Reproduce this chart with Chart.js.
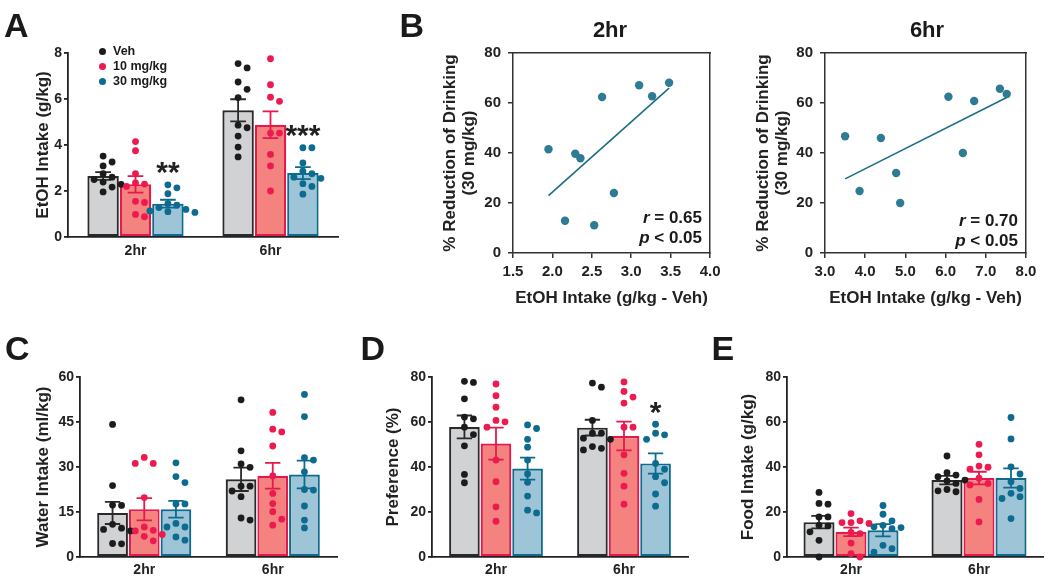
<!DOCTYPE html>
<html>
<head>
<meta charset="utf-8">
<title>EtOH intake figure</title>
<script src="https://cdn.jsdelivr.net/npm/chart.js@4.4.1/dist/chart.umd.min.js"></script>
<style>
  html,body{margin:0;padding:0;background:#fff;}
  body{width:1050px;height:582px;position:relative;overflow:hidden;font-family:"Liberation Sans",Arial,Helvetica,sans-serif;color:#1a1a1a;}
  .box{position:absolute;}
  .txt{position:absolute;font-weight:bold;white-space:nowrap;z-index:2;}
  .letter{font-size:34px;line-height:34px;}
  .ttl{font-size:22px;line-height:22px;width:120px;text-align:center;}
  .stat{font-size:17px;line-height:20px;text-align:right;}
  .leg{font-size:12.5px;line-height:15px;}
  .dot{position:absolute;width:7px;height:7px;border-radius:50%;z-index:2;}
</style>
</head>
<body>
<div class="box" style="left:0;top:0;width:345px;height:275px"><canvas id="cA"></canvas></div>
<div class="box" style="left:380px;top:0;width:345px;height:320px"><canvas id="cB1"></canvas></div>
<div class="box" style="left:720px;top:0;width:330px;height:320px"><canvas id="cB2"></canvas></div>
<div class="box" style="left:0;top:300px;width:345px;height:282px"><canvas id="cC"></canvas></div>
<div class="box" style="left:350px;top:300px;width:345px;height:282px"><canvas id="cD"></canvas></div>
<div class="box" style="left:700px;top:300px;width:350px;height:282px"><canvas id="cE"></canvas></div>

<div class="txt letter" style="left:4px;top:7.5px">A</div>
<div class="txt letter" style="left:399.5px;top:7.5px">B</div>
<div class="txt letter" style="left:5px;top:330.5px">C</div>
<div class="txt letter" style="left:360.5px;top:330.5px">D</div>
<div class="txt letter" style="left:711.5px;top:330.5px">E</div>

<div class="txt ttl" style="left:550px;top:19px">2hr</div>
<div class="txt ttl" style="left:867px;top:19px">6hr</div>

<div class="txt stat" style="right:348px;top:208px"><i>r</i> = 0.65<br><i>p</i> &lt; 0.05</div>
<div class="txt stat" style="right:32px;top:211px"><i>r</i> = 0.70<br><i>p</i> &lt; 0.05</div>

<div id="legend"></div>

<script>
// ---------------- DATA ----------------
const groups = ['2hr', '6hr'];
const treatments = ['Veh', '10 mg/kg', '30 mg/kg'];

// A: EtOH intake (g/kg) — individual animals [2hr, 6hr]
const etohVehPts = [[3.52,3.26,3.09,2.75,2.60,2.50,2.39,2.29,2.17,1.96],[7.54,7.35,6.74,6.42,6.06,4.86,4.75,4.39,3.91,3.48]];
const etoh10Pts  = [[4.15,3.75,2.75,2.35,2.30,2.20,1.55,1.50,0.98,0.88],[7.75,6.62,6.08,5.90,4.52,4.52,3.59,3.09,2.00]];
const etoh30Pts  = [[2.27,2.14,1.88,1.45,1.38,1.28,1.20,1.13,1.10,1.07],[3.88,3.88,3.22,2.86,2.75,2.60,2.55,2.32,2.20,1.86]];
const etohMeanVeh = [2.65, 5.51], etohSemVeh = [0.17, 0.48];
const etohMean10  = [2.29, 4.88], etohSem10  = [0.36, 0.58];
const etohMean30  = [1.45, 2.78], etohSem30  = [0.17, 0.26];
const etohSig30   = ['**', '***'];

// B: % reduction of drinking (30 mg/kg) vs EtOH intake (Veh)
const b2hrX = [1.95,2.16,2.29,2.355,2.53,2.63,2.78,3.10,3.265,3.48];
const b2hrY = [41.5,12.9,39.7,37.9,11.1,62.4,24.0,67.1,62.7,68.1];
const b6hrX = [3.50,3.86,4.39,4.77,4.87,6.07,6.43,6.71,7.35,7.52];
const b6hrY = [46.7,24.8,46.0,32.0,20.0,62.5,40.0,60.8,65.7,63.6];

// C: Water intake (ml/kg)
const waterVehPts = [[44.2,23.8,17.3,17.2,10.9,9.6,9.2,8.7,4.5,4.4],[52.4,35.4,31.0,29.9,23.6,23.6,22.0,20.1,13.0,12.3]];
const water10Pts  = [[33.2,31.2,31.2,19.8,10.0,8.9,8.7,7.5,6.9,5.4],[48.2,42.6,41.7,37.0,27.0,21.2,17.8,15.1,12.6,10.6]];
const water30Pts  = [[31.4,26.8,24.8,17.7,17.7,11.2,10.0,10.0,6.7,5.6],[54.2,46.8,33.1,32.3,28.4,22.5,22.3,17.0,12.3,9.7]];
const waterMeanVeh = [14.7, 25.9], waterSemVeh = [3.7, 3.9];
const waterMean10  = [15.9, 27.1], waterSem10  = [3.7, 4.3];
const waterMean30  = [15.9, 27.5], waterSem30  = [2.8, 4.6];

// D: Preference (%)
const prefVehPts = [[78.1,77.6,70.3,62.2,61.4,57.7,54.4,49.4,36.7,33.0],[77.3,75.5,60.7,55.0,55.0,52.8,52.3,49.1,48.3,47.6]];
const pref10Pts  = [[76.9,71.7,66.6,60.7,60.1,57.7,43.1,33.5,22.3,15.9],[77.8,73.6,71.1,68.4,57.7,57.7,45.4,37.2,31.5,23.5]];
const pref30Pts  = [[58.7,57.1,52.3,48.8,43.1,36.9,33.2,27.1,20.8,19.6],[59.0,55.0,54.3,52.3,41.6,39.0,35.7,33.0,28.0,22.6]];
const prefMeanVeh = [57.8, 57.5], prefSemVeh = [5.1, 3.5];
const prefMean10  = [50.4, 53.8], prefSem10  = [7.1, 6.4];
const prefMean30  = [39.3, 41.6], prefSem30  = [4.9, 4.5];
const prefSig30   = ['', '*'];

// E: Food intake (g/kg)
const foodVehPts = [[28.7,23.8,23.5,17.8,17.8,14.1,13.8,11.2,7.4,0.0],[44.9,37.5,36.4,35.7,34.2,33.8,32.7,30.0,29.4,29.0]];
const food10Pts  = [[19.3,16.1,15.3,15.3,14.9,10.9,10.4,6.2,1.5,0.0],[50.1,45.4,40.4,39.9,39.0,35.0,32.7,32.0,25.6,15.6]];
const food30Pts  = [[22.9,19.0,16.1,14.1,13.4,13.1,12.6,5.2,3.7,2.2],[62.0,52.5,40.1,36.9,33.5,30.5,28.3,26.8,26.0,17.1]];
const foodMeanVeh = [15.5, 34.2], foodSemVeh = [2.8, 1.9];
const foodMean10  = [11.2, 35.1], foodSem10  = [1.9, 2.8];
const foodMean30  = [11.9, 35.1], foodSem30  = [2.7, 4.3];

// ---------------- STYLE ----------------
const FONT = '"Liberation Sans", Arial, Helvetica, sans-serif';
const INK = '#222222';
const fills   = ['#d1d2d4', '#f4837f', '#9ec4d7'];
const borders = ['#2a2a2a', '#e5194b', '#0c6b8f'];
const dotCols = ['#1c1c1c', '#ec1a4f', '#0c6b8f'];
const SCAT = '#2f7b93';
const FITC = '#1c6e85';
const DOT_R = 3.4, DOT_STEP = 9;

// legend (HTML)
(function(){
  const L = document.getElementById('legend');
  const rows = [51, 66, 81];
  treatments.forEach((t,i)=>{
    const d = document.createElement('div'); d.className='dot';
    d.style.left='98.5px'; d.style.top=(rows[i]-3.5)+'px'; d.style.background=dotCols[i];
    L.appendChild(d);
    const s = document.createElement('div'); s.className='txt leg';
    s.style.left='113px'; s.style.top=(rows[i]-7.5)+'px'; s.textContent=t;
    L.appendChild(s);
  });
})();

// beeswarm: horizontal pixel offsets so dots do not overlap
function swarm(vals, pxPerY, step, r) {
  const order = vals.map((v,i)=>i).sort((a,b)=>vals[b]-vals[a]);
  const placed = [], off = new Array(vals.length).fill(0);
  for (const i of order) {
    const y = vals[i]*pxPerY;
    for (let k=0; k<30; k++) {
      const cand = k===0 ? 0 : (k%2 ? 1 : -1)*Math.ceil(k/2)*step;
      if (placed.every(p => Math.hypot(p.x-cand, p.y-y) >= 2*r+0.8)) { off[i]=cand; placed.push({x:cand,y}); break; }
    }
  }
  return off;
}

const errPlugin = {
  id:'errbars',
  afterDatasetDraw(chart, args) {
    const ds = chart.data.datasets[args.index];
    if (!ds.sem) return;
    const y = chart.scales.y, ctx = chart.ctx;
    ctx.save();
    ctx.strokeStyle = ds.borderColor; ctx.lineWidth = 1.8;
    args.meta.data.forEach((bar, i) => {
      const m = ds.data[i], s = ds.sem[i];
      const yt = y.getPixelForValue(m+s), yb = y.getPixelForValue(m-s);
      const x = bar.x, hw = bar.width*0.25;
      ctx.beginPath();
      ctx.moveTo(x, yt); ctx.lineTo(x, yb);
      ctx.moveTo(x-hw, yt); ctx.lineTo(x+hw, yt);
      ctx.moveTo(x-hw, yb); ctx.lineTo(x+hw, yb);
      ctx.stroke();
    });
    ctx.restore();
  }
};

// individual animals drawn over each bar, positioned by the y scale
const dotPlugin = {
  id:'dots',
  afterDatasetsDraw(chart) {
    const ctx = chart.ctx, y = chart.scales.y;
    const pxPerY = y.getPixelForValue(0) - y.getPixelForValue(1);
    chart.data.datasets.forEach((ds, di) => {
      if (!ds.pts) return;
      const meta = chart.getDatasetMeta(di);
      ds.pts.forEach((vals, g) => {
        const bar = meta.data[g];
        const offs = swarm(vals, pxPerY, DOT_STEP, DOT_R);
        ctx.save();
        ctx.fillStyle = ds.dotColor;
        vals.forEach((v, i) => {
          ctx.beginPath();
          ctx.arc(bar.x + offs[i], y.getPixelForValue(v), DOT_R, 0, Math.PI*2);
          ctx.fill();
        });
        ctx.restore();
      });
    });
  }
};

const sigPlugin = {
  id:'sig',
  afterDatasetsDraw(chart) {
    const ctx = chart.ctx, y = chart.scales.y;
    chart.data.datasets.forEach((ds, di) => {
      if (!ds.sig) return;
      const meta = chart.getDatasetMeta(di);
      ds.sig.forEach((s, i) => {
        if (!s) return;
        const c = y.getPixelForValue(Math.max(...ds.pts[i])) - 20;
        ctx.save();
        ctx.font = 'bold 30px ' + FONT; ctx.fillStyle = INK;
        ctx.textAlign = 'center'; ctx.textBaseline = 'alphabetic';
        ctx.fillText(s, meta.data[i].x, c + 0.58*30);
        ctx.restore();
      });
    });
  }
};

function barPanel(id, c) {
  const datasets = [];
  for (let t=0; t<3; t++) {
    datasets.push({type:'bar', label:treatments[t], data:c.means[t], sem:c.sems[t], pts:c.pts[t],
      sig: c.sig ? c.sig[t] : null, dotColor: dotCols[t],
      backgroundColor:fills[t], borderColor:borders[t], borderWidth:2.2, borderSkipped:false,
      categoryPercentage:c.cp, barPercentage:0.97});
  }
  const tickFont = {family:FONT, size:14, weight:'bold'};
  new Chart(document.getElementById(id), {
    type:'bar',
    data:{labels:groups, datasets},
    options:{
      responsive:true, maintainAspectRatio:false, animation:false, events:[],
      layout:{padding:{top:c.padTop, right:c.padRight, left:0, bottom:0}},
      plugins:{legend:{display:false}, tooltip:{enabled:false}},
      scales:{
        x:{type:'category', offset:true, grid:{display:false, drawTicks:false},
           border:{display:true, color:INK, width:1.8},
           ticks:{color:INK, font:tickFont, padding:c.tickPad},
           afterFit:s=>{s.height=c.xHeight;}},
        y:{type:'linear', min:0, max:c.yMax,
           ticks:{stepSize:c.yStep, color:INK, font:tickFont, padding:2},
           grid:{display:true, drawOnChartArea:false, drawTicks:true, tickLength:4, color:INK, lineWidth:1.8},
           border:{display:true, color:INK, width:1.8},
           title:{display:true, text:c.yTitle, color:INK, font:{family:FONT, size:17, weight:'bold'}, padding:{top:c.titlePad, bottom:0}},
           afterFit:s=>{s.width=c.yWidth;}}
      }
    },
    plugins:[errPlugin, dotPlugin, sigPlugin]
  });
}

function linFit(xs, ys) {
  const n = xs.length;
  const mx = xs.reduce((a,b)=>a+b,0)/n, my = ys.reduce((a,b)=>a+b,0)/n;
  let sxy=0, sxx=0;
  for (let i=0;i<n;i++){ sxy += (xs[i]-mx)*(ys[i]-my); sxx += (xs[i]-mx)**2; }
  const b = sxy/sxx;
  return {a: my - b*mx, b};
}

function scatterPanel(id, xs, ys, c) {
  const f = linFit(xs, ys);
  const x0 = Math.min(...xs), x1 = Math.max(...xs);
  const tickFont = {family:FONT, size:15, weight:'bold'};
  const titleFont = {family:FONT, size:17, weight:'bold', lineHeight:1.15};
  const bord = {display:true, color:'#333', width:1.5};
  new Chart(document.getElementById(id), {
    type:'scatter',
    data:{datasets:[
      {label:'animals', data:xs.map((x,i)=>({x, y:ys[i]})), backgroundColor:SCAT, borderWidth:0, pointRadius:4.2, pointHoverRadius:4.2, order:1},
      {type:'line', label:'linear fit', data:[{x:x0, y:f.a+f.b*x0},{x:x1, y:f.a+f.b*x1}], borderColor:FITC, borderWidth:1.6, pointRadius:0, fill:false, order:2}
    ]},
    options:{
      responsive:true, maintainAspectRatio:false, animation:false, events:[],
      layout:{padding:{top:53, right:c.padRight, left:0, bottom:0}},
      plugins:{legend:{display:false}, tooltip:{enabled:false}},
      scales:{
        x:{type:'linear', position:'bottom', min:c.xMin, max:c.xMax,
           ticks:{stepSize:c.xStep, callback:v=>Number(v).toFixed(1), color:INK, font:tickFont, padding:4.5, autoSkip:false, maxRotation:0},
           grid:{display:true, drawOnChartArea:false, drawTicks:true, tickLength:5, color:'#333', lineWidth:1.5},
           border:bord,
           title:{display:true, text:'EtOH Intake (g/kg - Veh)', color:INK, font:{family:FONT, size:17, weight:'bold'}, padding:{top:0, bottom:11.8}},
           afterFit:s=>{s.height=67;}},
        y:{type:'linear', position:'left', min:0, max:80,
           ticks:{stepSize:20, color:INK, font:tickFont, padding:7},
           grid:{display:true, drawOnChartArea:false, drawTicks:true, tickLength:5, color:'#333', lineWidth:1.5},
           border:bord,
           title:{display:true, text:['% Reduction of Drinking','(30 mg/kg)'], color:INK, font:titleFont, padding:{top:c.titlePad, bottom:0}},
           afterFit:s=>{s.width=c.yWidth;}},
        x2:{type:'linear', position:'top', min:0, max:1, ticks:{display:false}, grid:{display:false, drawTicks:false}, border:bord, afterFit:s=>{s.height=0;}},
        y2:{type:'linear', position:'right', min:0, max:1, ticks:{display:false}, grid:{display:false, drawTicks:false}, border:bord, afterFit:s=>{s.width=0;}}
      }
    }
  });
}

// ---------------- BUILD ----------------
barPanel('cA', {
  means:[etohMeanVeh, etohMean10, etohMean30], sems:[etohSemVeh, etohSem10, etohSem30],
  pts:[etohVehPts, etoh10Pts, etoh30Pts], sig:[null, null, etohSig30],
  yMax:8, yStep:2, yTitle:'EtOH Intake (g/kg)', cp:0.72,
  yWidth:68, xHeight:38, padTop:53, padRight:7, titlePad:32.8, tickPad:6
});
scatterPanel('cB1', b2hrX, b2hrY, {xMin:1.5, xMax:4.0, xStep:0.5, yWidth:133, padRight:12, titlePad:60.2});
scatterPanel('cB2', b6hrX, b6hrY, {xMin:3.0, xMax:8.0, xStep:1.0, yWidth:105, padRight:24, titlePad:33.2});
barPanel('cC', {
  means:[waterMeanVeh, waterMean10, waterMean30], sems:[waterSemVeh, waterSem10, waterSem30],
  pts:[waterVehPts, water10Pts, water30Pts], sig:null,
  yMax:60, yStep:15, yTitle:'Water Intake (ml/kg)', cp:0.74,
  yWidth:80, xHeight:25, padTop:77, padRight:8, titlePad:32.8, tickPad:5
});
barPanel('cD', {
  means:[prefMeanVeh, prefMean10, prefMean30], sems:[prefSemVeh, prefSem10, prefSem30],
  pts:[prefVehPts, pref10Pts, pref30Pts], sig:[null, null, prefSig30],
  yMax:80, yStep:20, yTitle:'Preference (%)', cp:0.74,
  yWidth:82, xHeight:25, padTop:77, padRight:7, titlePad:32.8, tickPad:5
});
barPanel('cE', {
  means:[foodMeanVeh, foodMean10, foodMean30], sems:[foodSemVeh, foodSem10, foodSem30],
  pts:[foodVehPts, food10Pts, food30Pts], sig:null,
  yMax:80, yStep:20, yTitle:'Food Intake (g/kg)', cp:0.75,
  yWidth:87, xHeight:25, padTop:77, padRight:7, titlePad:37.8, tickPad:5
});
</script>
</body>
</html>
